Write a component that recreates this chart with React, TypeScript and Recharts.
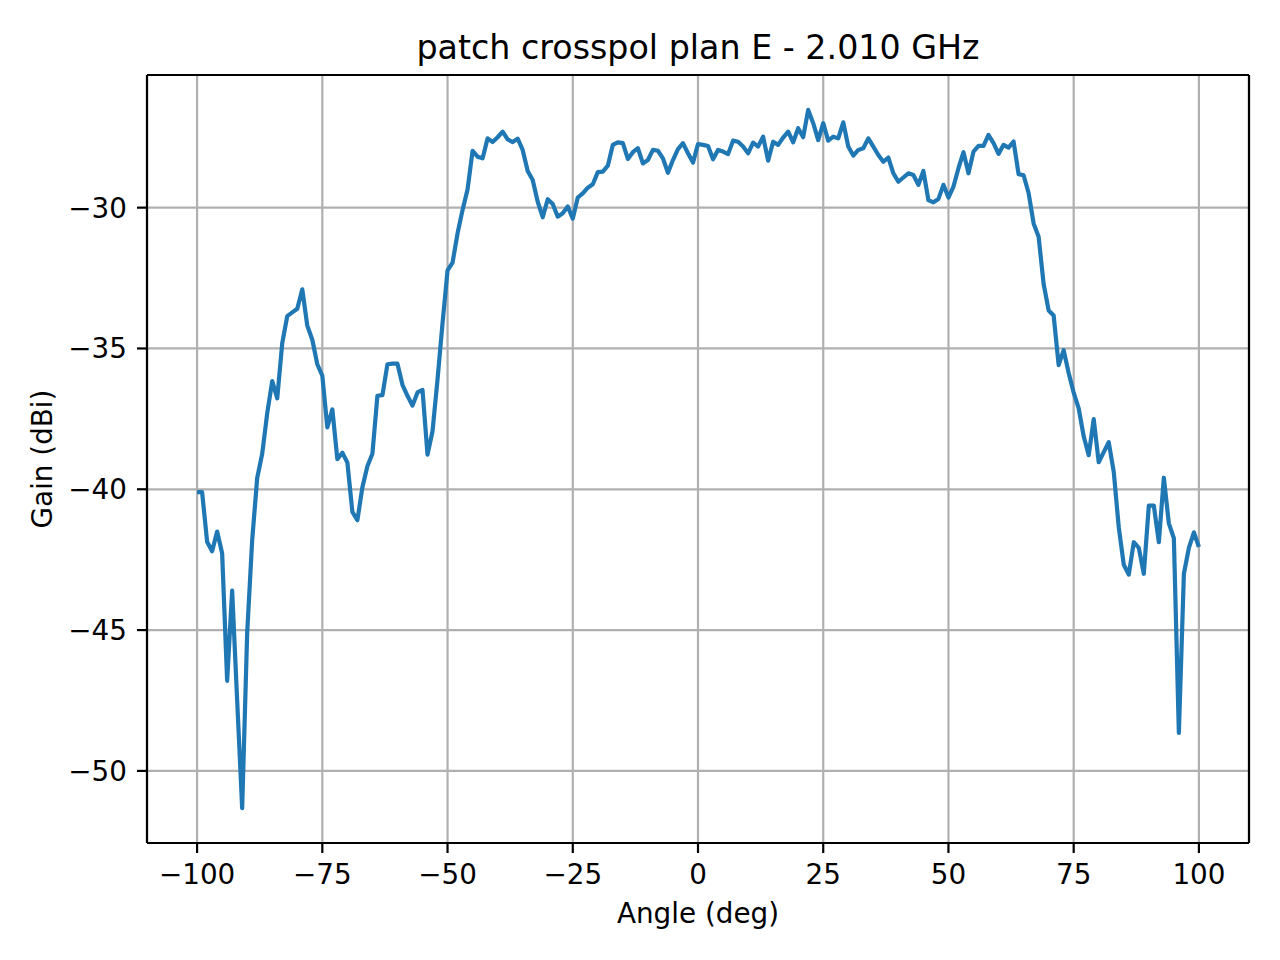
import { CartesianGrid, Line, LineChart, ReferenceLine, XAxis, YAxis } from "recharts";

const TITLE = "patch crosspol plan E - 2.010 GHz";
const X_LABEL = "Angle (deg)";
const Y_LABEL = "Gain (dBi)";

const X_TICKS = [-100, -75, -50, -25, 0, 25, 50, 75, 100];
const Y_TICKS = [-50, -45, -40, -35, -30];

// gain in dBi, one sample per degree
// -100 .. -51
const GAIN_A = [
  -40.1, -40.1, -41.86, -42.2, -41.5, -42.27, -46.8, -43.6, -47.5, -51.32,
  -45.1, -41.8, -39.6, -38.74, -37.3, -36.16, -36.77, -34.81, -33.85, -33.72,
  -33.59, -32.9, -34.19, -34.69, -35.56, -35.97, -37.8, -37.16, -38.93, -38.7,
  -39.05, -40.8, -41.1, -39.93, -39.18, -38.74, -36.68, -36.66, -35.56, -35.54,
  -35.54, -36.29, -36.68, -37.03, -36.56, -36.47, -38.77, -37.94, -36.1, -34.1,
];
// -50 .. -1
const GAIN_B = [
  -32.23, -31.95, -30.91, -30.08, -29.35, -27.98, -28.19, -28.25, -27.54, -27.67,
  -27.5, -27.3, -27.58, -27.67, -27.55, -27.95, -28.7, -29.02, -29.79, -30.34,
  -29.7, -29.87, -30.32, -30.2, -29.96, -30.39, -29.64, -29.49, -29.29, -29.17,
  -28.74, -28.72, -28.51, -27.77, -27.68, -27.71, -28.27, -28.03, -27.89, -28.43,
  -28.31, -27.95, -27.98, -28.25, -28.76, -28.31, -27.92, -27.71, -28.07, -28.4,
];
// 0 .. 49
const GAIN_C = [
  -27.74, -27.77, -27.81, -28.28, -27.95, -28.01, -28.1, -27.62, -27.66, -27.83,
  -28.07, -27.69, -27.83, -27.48, -28.33, -27.66, -27.77, -27.51, -27.3, -27.68,
  -27.18, -27.5, -26.53, -27.0, -27.6, -27.0, -27.62, -27.48, -27.54, -26.97,
  -27.83, -28.15, -27.95, -27.89, -27.54, -27.83, -28.13, -28.37, -28.22, -28.78,
  -29.08, -28.93, -28.78, -28.84, -29.19, -28.7, -29.73, -29.81, -29.69, -29.19,
];
// 50 .. 100
const GAIN_D = [
  -29.64, -29.25, -28.6, -28.03, -28.78, -28.01, -27.81, -27.81, -27.42, -27.71,
  -28.09, -27.77, -27.87, -27.65, -28.81, -28.85, -29.48, -30.56, -31.03, -32.71,
  -33.65, -33.83, -35.59, -35.06, -35.87, -36.57, -37.13, -38.12, -38.79, -37.51,
  -39.04, -38.68, -38.33, -39.38, -41.35, -42.68, -43.03, -41.88, -42.08, -43.0,
  -40.58, -40.58, -41.88, -39.59, -41.21, -41.74, -48.65, -43.0, -42.08, -41.53,
  -42.05,
];

const GAIN = [...GAIN_A, ...GAIN_B, ...GAIN_C, ...GAIN_D];
const data = GAIN.map((gain, i) => ({ angle: -100 + i, gain }));

const FONT = "DejaVu Sans";
const TICK = { fill: "#000", fontSize: 27.8, fontFamily: FONT };
const SPINE = { stroke: "#000", strokeWidth: 2.2 };
const X_DOMAIN = [-110, 110];
const Y_DOMAIN = [-52.56, -25.29];

const fmt = (v: number) => (v < 0 ? "\u2212" + Math.abs(v) : String(v));

export default function App() {
  return (
    <div
      style={{
        position: "absolute",
        left: 0,
        top: 0,
        width: 1280,
        height: 960,
        background: "#fff",
        fontFamily: FONT,
      }}
    >
      <LineChart
        width={1280}
        height={960}
        data={data}
        margin={{ top: 75, right: 31, bottom: 0, left: 0 }}
      >
        <CartesianGrid stroke="#b0b0b0" strokeWidth={2.2} />
        <XAxis
          dataKey="angle"
          type="number"
          domain={X_DOMAIN}
          ticks={X_TICKS}
          interval={0}
          height={117}
          tick={TICK}
          tickFormatter={fmt}
          tickSize={10}
          tickMargin={11}
          tickLine={SPINE}
          axisLine={SPINE}
          allowDataOverflow
          label={{
            value: X_LABEL,
            position: "insideBottom",
            offset: 37,
            fill: "#000",
            fontSize: 27.8,
            fontFamily: FONT,
          }}
        />
        <YAxis
          type="number"
          domain={Y_DOMAIN}
          ticks={Y_TICKS}
          interval={0}
          width={147}
          tick={TICK}
          tickFormatter={fmt}
          tickSize={10}
          tickMargin={10}
          tickLine={SPINE}
          axisLine={SPINE}
          allowDataOverflow
          label={{
            value: Y_LABEL,
            angle: -90,
            position: "insideLeft",
            offset: 42,
            fill: "#000",
            fontSize: 27.8,
            fontFamily: FONT,
            style: { textAnchor: "middle" },
          }}
        />
        {/* top and right spines */}
        <ReferenceLine y={Y_DOMAIN[1]} stroke="#000" strokeWidth={2.2} ifOverflow="visible" />
        <ReferenceLine x={X_DOMAIN[1]} stroke="#000" strokeWidth={2.2} ifOverflow="visible" />
        <Line
          type="linear"
          dataKey="gain"
          stroke="#1f77b4"
          strokeWidth={4.2}
          strokeLinejoin="round"
          dot={false}
          activeDot={false}
          isAnimationActive={false}
        />
      </LineChart>
      <svg
        width={1280}
        height={960}
        style={{ position: "absolute", left: 0, top: 0, pointerEvents: "none" }}
      >
        <text x={698} y={58.5} textAnchor="middle" fontSize={33.3} fontFamily={FONT} fill="#000">
          {TITLE}
        </text>
      </svg>
    </div>
  );
}
